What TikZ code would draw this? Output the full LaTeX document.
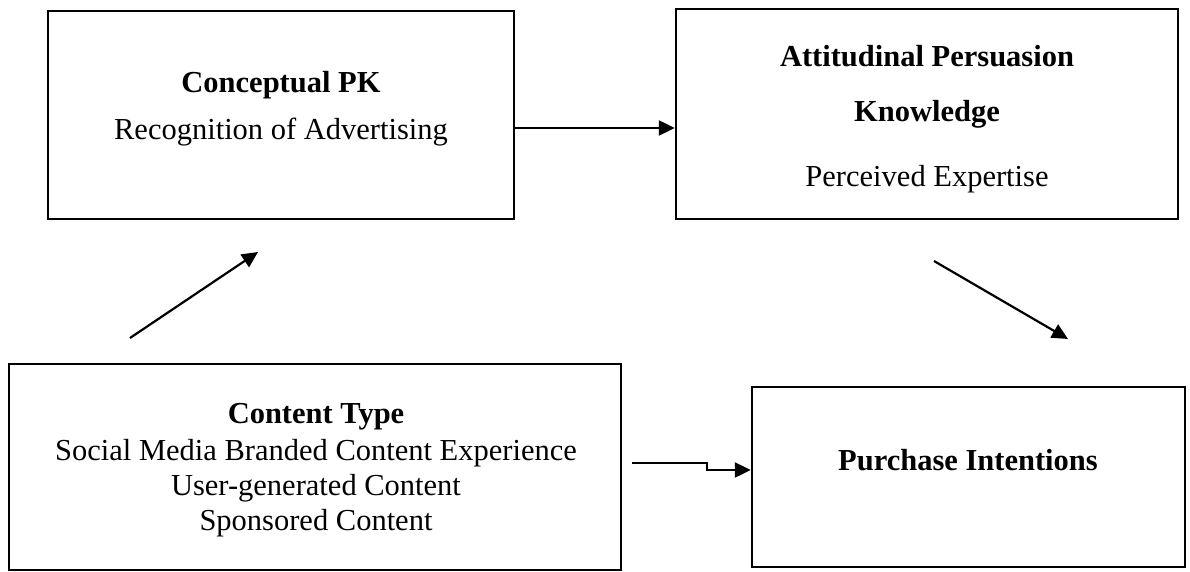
\documentclass[tikz,border=0pt]{standalone}
\usepackage{fontspec}
\setmainfont{Liberation Serif}
\usetikzlibrary{arrows.meta}
\begin{document}
\begin{tikzpicture}[x=1pt,y=-1pt,
  box/.style={draw=black, line width=2.4pt, inner sep=0pt},
  txt/.style={inner sep=0pt, anchor=base, font=\fontsize{30.5}{35}\selectfont},
  head/.style={txt, font=\fontsize{30.5}{35}\selectfont\bfseries},
  link/.style={line width=2.2pt, -{Triangle[length=16pt,width=15pt]}}]
\useasboundingbox (0,0) rectangle (1190,572);
% boxes
\node[box, minimum width=466pt, minimum height=208pt] (cpk) at (281,115) {};
\node[box, minimum width=502pt, minimum height=210pt] (apk) at (927,114) {};
\node[box, minimum width=612pt, minimum height=206pt] (ct) at (315,467) {};
\node[box, minimum width=433pt, minimum height=180pt] (pi) at (968.5,477) {};
% texts
\node[head] (t1) at (281,93) {Conceptual PK};
\node[txt] (t2) at (281,140) {Recognition of Advertising};
\node[head] (t3) at (927,67) {Attitudinal Persuasion};
\node[head] (t4) at (927,122) {Knowledge};
\node[txt] (t5) at (927,186) {Perceived Expertise};
\node[head] (t6) at (316,423) {Content Type};
\node[txt] (t7) at (316,460) {Social Media Branded Content Experience};
\node[txt] (t8) at (316,495) {User-generated Content};
\node[txt] (t9) at (316,530) {Sponsored Content};
\node[head] (t10) at (968,470) {Purchase Intentions};
% connectors
\draw[link] (cpk.east |- 0,128) -- (apk.west |- 0,128);
\coordinate (b1) at (130,338);
\coordinate (b2) at (258,252);
\draw[link] (b1) -- (b2);
\coordinate (c1) at (934,261);
\coordinate (c2) at (1068,339);
\draw[link] (c1) -- (c2);
\coordinate (d1) at (632,463);
\coordinate (d2) at (707,470);
\draw[link] (d1) -- (d1 -| d2) -- (d2) -- (d2 -| pi.west);
\end{tikzpicture}
\end{document}
